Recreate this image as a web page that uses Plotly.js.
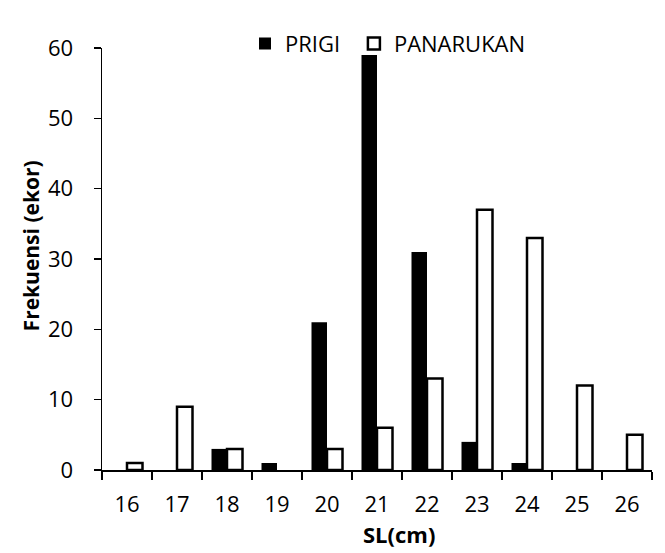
<!DOCTYPE html>
<html>
<head>
<meta charset="utf-8">
<script src="https://cdn.plot.ly/plotly-3.0.1.min.js"></script>
<style>
  html, body { margin: 0; padding: 0; background: #fff; }
  #chart { width: 665px; height: 553px; }
</style>
</head>
<body>
<div id="chart"></div>
<script>
// standard length classes (cm)
const sizeClasses = ['16', '17', '18', '19', '20', '21', '22', '23', '24', '25', '26'];
const prigi = [0, 0, 3, 1, 21, 59, 31, 4, 1, 0, 0];
const panarukan = [1, 9, 3, 0, 3, 6, 13, 37, 33, 12, 5];

const font = 'Open Sans, Lato, sans-serif';

// empty classes get no bar at all (not even a flat outline)
const noZero = arr => arr.map(v => (v === 0 ? null : v));

const traces = [
  {
    type: 'bar',
    name: 'PRIGI',
    x: sizeClasses,
    y: noZero(prigi),
    legend: 'legend',
    marker: { color: '#000', line: { color: '#000', width: 0 } }
  },
  {
    type: 'bar',
    name: 'PANARUKAN',
    x: sizeClasses,
    y: noZero(panarukan),
    legend: 'legend2',
    marker: { color: '#fff', line: { color: '#000', width: 2.5 } }
  }
];

// one legend box per entry so the gap between them can match the original
const legendBox = x => ({
  orientation: 'h',
  x: x,
  xanchor: 'left',
  y: 1.01,
  yanchor: 'middle',
  itemwidth: 30,
  font: { family: font, size: 22, color: '#000' },
  bgcolor: 'rgba(0,0,0,0)'
});

const layout = {
  width: 665,
  height: 553,
  margin: { l: 102, r: 13, t: 48, b: 83 },
  paper_bgcolor: '#fff',
  plot_bgcolor: '#fff',
  font: { family: font, size: 22, color: '#000' },
  barmode: 'group',
  bargap: 0.38,
  bargroupgap: 0,
  showlegend: true,
  legend: legendBox(0.26),
  legend2: legendBox(0.458),
  xaxis: {
    type: 'category',
    tickson: 'boundaries',
    ticks: 'outside',
    ticklen: 8,
    tickwidth: 1.5,
    tickcolor: '#000',
    showline: true,
    linecolor: '#000',
    linewidth: 1.5,
    showgrid: false,
    zeroline: false,
    ticklabelstandoff: 14,
    tickfont: { family: font, size: 22 }
  },
  yaxis: {
    range: [0, 60],
    dtick: 10,
    ticks: 'outside',
    ticklen: 7,
    tickwidth: 1.5,
    tickcolor: '#000',
    showline: true,
    linecolor: '#000',
    linewidth: 1.5,
    showgrid: false,
    zeroline: false,
    ticklabelstandoff: 16,
    tickfont: { family: font, size: 22 }
  },
  // axis titles placed like the original (Excel centres them on the chart area)
  annotations: [
    {
      text: '<b>SL(cm)</b>',
      xref: 'paper', yref: 'paper',
      x: 0.54, y: -0.152,
      xanchor: 'center', yanchor: 'middle',
      showarrow: false,
      font: { family: font, size: 22 }
    },
    {
      text: '<b>Frekuensi (ekor)</b>',
      xref: 'paper', yref: 'paper',
      x: -0.129, y: 0.53,
      xanchor: 'center', yanchor: 'middle',
      textangle: -90,
      showarrow: false,
      font: { family: font, size: 21 }
    }
  ]
};

Plotly.newPlot('chart', traces, layout, { displayModeBar: false, staticPlot: true });
</script>
</body>
</html>
